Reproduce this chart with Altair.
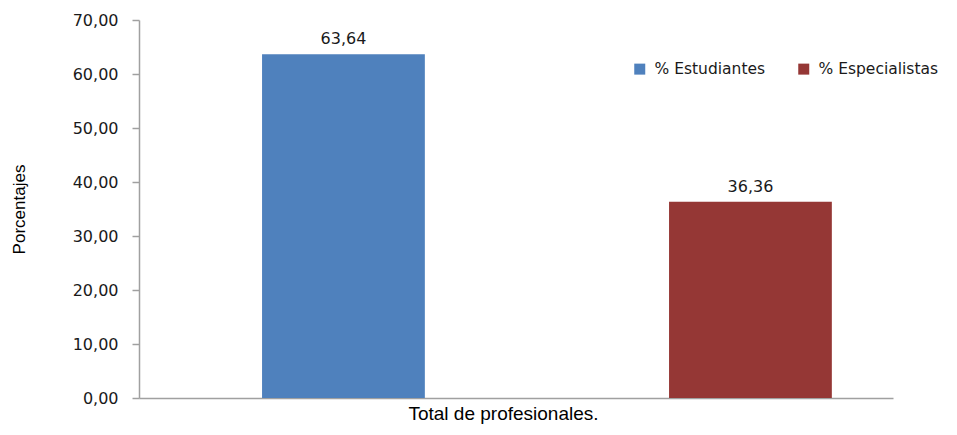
import altair as alt
import pandas as pd

series = ["% Estudiantes", "% Especialistas"]
values = [63.64, 36.36]
colors = ["#4F81BD", "#953735"]
y_ticks = [0, 10, 20, 30, 40, 50, 60, 70]
x_title = "Total de profesionales."
y_title = "Porcentajes"

df = pd.DataFrame({"serie": series, "valor": values})

fmt = "replace(format(datum.valor, '.2f'), '.', ',')"
base = alt.Chart(df).transform_calculate(label=fmt)

x = alt.X(
    "serie:N",
    sort=series,
    scale=alt.Scale(paddingInner=0.6, paddingOuter=0.2263, align=0.668),
    axis=alt.Axis(
        labels=False, ticks=False, title=x_title,
        titleFont="Liberation Sans", titleFontSize=19, titleFontWeight="normal",
        titleColor="#000000", titlePadding=6, titleX=364,
        domainColor="#a0a0a0", domainWidth=1.5,
    ),
)
y = alt.Y(
    "valor:Q",
    scale=alt.Scale(domain=[0, 70]),
    axis=alt.Axis(
        values=y_ticks, grid=False,
        labelExpr="replace(format(datum.value, '.2f'), '.', ',')",
        tickSize=7, tickColor="#a0a0a0", tickWidth=1.5,
        domainColor="#a0a0a0", domainWidth=1.5,
        labelPadding=14, labelFont="DejaVu Sans", labelFontSize=16, labelColor="#1a1a1a",
        title=y_title, titleFont="Liberation Sans", titleFontSize=17,
        titleFontWeight="normal", titleColor="#000000", titlePadding=44,
    ),
)

bars = base.mark_bar().encode(
    x=x,
    y=y,
    color=alt.Color(
        "serie:N",
        sort=series,
        scale=alt.Scale(domain=series, range=colors),
        legend=alt.Legend(
            orient="none", legendX=493, legendY=41, direction="horizontal",
            title=None, symbolType="square", symbolSize=121, symbolStrokeWidth=0,
            labelFont="DejaVu Sans", labelFontSize=15.5, labelColor="#1a1a1a",
            columnPadding=30, labelOffset=7, padding=0, labelLimit=300,
        ),
    ),
)

labels = base.mark_text(
    baseline="alphabetic", dy=-10, font="DejaVu Sans", fontSize=16, color="#1a1a1a"
).encode(
    x=alt.X("serie:N", sort=series),
    y="valor:Q",
    text="label:N",
)

chart = (
    alt.layer(bars, labels)
    .properties(
        width=754,
        height=378,
        autosize=alt.AutoSizeParams(type="none"),
        padding={"left": 131, "top": 12, "right": 56, "bottom": 29},
    )
    .configure_view(stroke=None)
)

chart.save("out.html", embed_options={"renderer": "svg", "actions": False})
